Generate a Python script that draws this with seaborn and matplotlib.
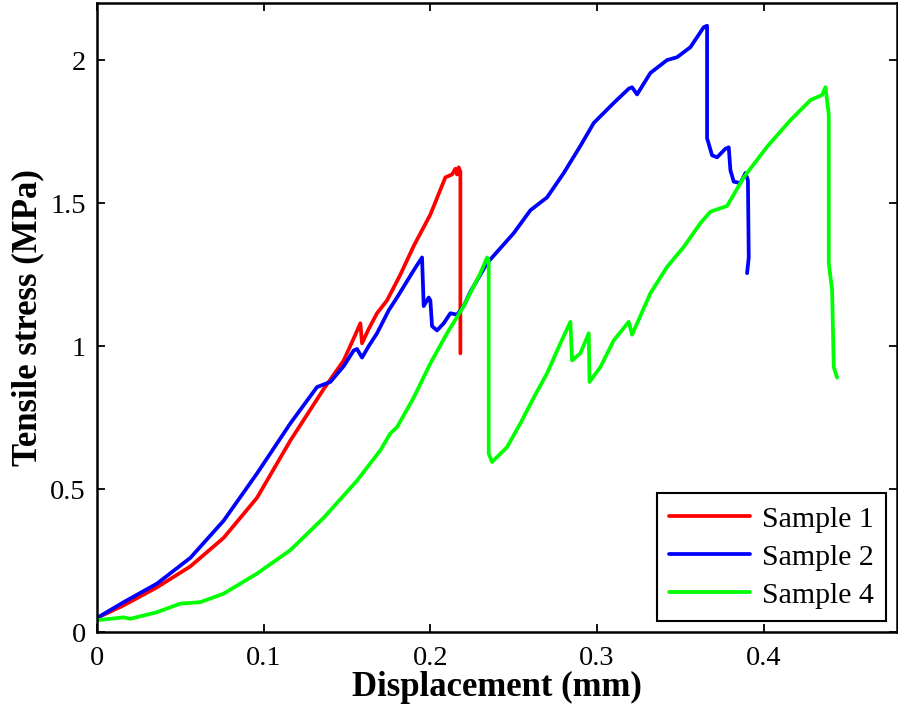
import pandas as pd
import numpy as np
import matplotlib
matplotlib.use('Agg')
import matplotlib.pyplot as plt
import seaborn as sns
from matplotlib.ticker import FuncFormatter

# ------------------------------------------------------------
# Data (displacement mm, stress MPa)
# ------------------------------------------------------------
x1 = [0, 0.016, 0.036, 0.056, 0.076, 0.096, 0.116, 0.136, 0.148, 0.155, 0.158,
      0.159, 0.163, 0.168, 0.174, 0.182, 0.19, 0.2, 0.209, 0.213, 0.215, 0.216,
      0.217, 0.218, 0.218]
y1 = [0.05, 0.094, 0.157, 0.23, 0.33, 0.47, 0.67, 0.85, 0.95, 1.04, 1.08,
      1.01, 1.06, 1.115, 1.16, 1.25, 1.35, 1.46, 1.59, 1.60, 1.62, 1.60,
      1.625, 1.61, 0.975]

x2 = [0, 0.016, 0.036, 0.056, 0.076, 0.096, 0.116, 0.132, 0.14, 0.148, 0.154,
      0.156, 0.159, 0.163, 0.168, 0.175, 0.18, 0.19, 0.195, 0.196, 0.199, 0.2,
      0.201, 0.204, 0.208, 0.212, 0.216, 0.22, 0.224, 0.234, 0.25, 0.26, 0.27,
      0.28, 0.29, 0.298, 0.31, 0.319, 0.321, 0.324, 0.332, 0.342, 0.348, 0.356,
      0.364, 0.366, 0.366, 0.369, 0.372, 0.377, 0.379, 0.38, 0.382, 0.386,
      0.389, 0.3905, 0.391, 0.39]
y2 = [0.05, 0.105, 0.17, 0.26, 0.39, 0.555, 0.73, 0.857, 0.875, 0.93, 0.985,
      0.99, 0.96, 1.0, 1.045, 1.125, 1.17, 1.265, 1.31, 1.14, 1.17, 1.16,
      1.07, 1.055, 1.08, 1.115, 1.11, 1.14, 1.19, 1.29, 1.395, 1.475, 1.52,
      1.605, 1.70, 1.78, 1.85, 1.90, 1.905, 1.88, 1.955, 2.0, 2.01, 2.045,
      2.115, 2.12, 1.727, 1.667, 1.66, 1.69, 1.695, 1.615, 1.575, 1.57,
      1.605, 1.58, 1.31, 1.255]

x4 = [0, 0.016, 0.02, 0.036, 0.05, 0.062, 0.076, 0.096, 0.116, 0.136, 0.156,
      0.17, 0.176, 0.18, 0.19, 0.2, 0.21, 0.22, 0.23, 0.234, 0.235, 0.235,
      0.237, 0.246, 0.254, 0.262, 0.27, 0.278, 0.284, 0.285, 0.29, 0.295,
      0.2955, 0.302, 0.31, 0.319, 0.321, 0.332, 0.342, 0.352, 0.362, 0.368,
      0.378, 0.388, 0.402, 0.416, 0.428, 0.435, 0.437, 0.439, 0.439, 0.441,
      0.442, 0.444]
y4 = [0.042, 0.052, 0.047, 0.07, 0.1, 0.105, 0.135, 0.205, 0.287, 0.40, 0.53,
      0.636, 0.695, 0.717, 0.82, 0.94, 1.045, 1.14, 1.255, 1.31, 1.30, 0.625,
      0.595, 0.647, 0.73, 0.82, 0.905, 1.01, 1.085, 0.95, 0.975, 1.045,
      0.875, 0.927, 1.02, 1.085, 1.04, 1.185, 1.277, 1.347, 1.43, 1.47,
      1.49, 1.59, 1.697, 1.79, 1.86, 1.878, 1.905, 1.81, 1.29, 1.196,
      0.927, 0.89]

series_names = ['Sample 1', 'Sample 2', 'Sample 4']
series_colors = ['#ff0000', '#0000ff', '#00ff00']

frames = []
for name, xs, ys in zip(series_names, [x1, x2, x4], [y1, y2, y4]):
    frames.append(pd.DataFrame({'Displacement': xs, 'Stress': ys,
                                'Sample': name}))
df = pd.concat(frames, ignore_index=True)

# ------------------------------------------------------------
# Plot
# ------------------------------------------------------------
sns.set_style('ticks')
plt.rcParams['font.family'] = ['Liberation Serif', 'DejaVu Serif']
plt.rcParams['text.color'] = 'black'
plt.rcParams['axes.labelcolor'] = 'black'

fig = plt.figure(figsize=(8.98, 7.16), dpi=100)
ax = fig.add_axes([0.108, 0.117, 0.891, 0.879])

sns.lineplot(data=df, x='Displacement', y='Stress', hue='Sample',
             palette=dict(zip(series_names, series_colors)),
             units='Sample', estimator=None, sort=False,
             linewidth=2.7, ax=ax)

ax.set_xlim(0, 0.48)
ax.set_ylim(0, 2.2)
ax.set_xticks([0, 0.1, 0.2, 0.3, 0.4])
ax.set_yticks([0, 0.5, 1, 1.5, 2])
fmt = FuncFormatter(lambda v, _: f'{v:g}')
ax.xaxis.set_major_formatter(fmt)
ax.yaxis.set_major_formatter(fmt)
ax.tick_params(direction='in', length=6, width=1.3, labelsize=20.5,
               top=True, right=True, colors='black')
ax.tick_params(axis='x', pad=10)
ax.tick_params(axis='y', pad=8)
for s in ax.spines.values():
    s.set_linewidth(1.8)
    s.set_color('black')

ax.set_xlabel('Displacement (mm)', fontsize=25, fontweight='bold', labelpad=0)
ax.set_ylabel('Tensile stress (MPa)', fontsize=25, fontweight='bold', labelpad=4)

leg = ax.legend(loc='lower right', fontsize=21.5, frameon=True, fancybox=False,
                framealpha=1, edgecolor='black', handlelength=2.7,
                borderaxespad=0.37, labelspacing=0.37, handletextpad=0.4,
                borderpad=0.42)
leg.get_frame().set_linewidth(1.5)
for t in leg.get_texts():
    t.set_color('black')

plt.savefig('out.png', dpi=100)
plt.close()
print("Saved: out.png")
